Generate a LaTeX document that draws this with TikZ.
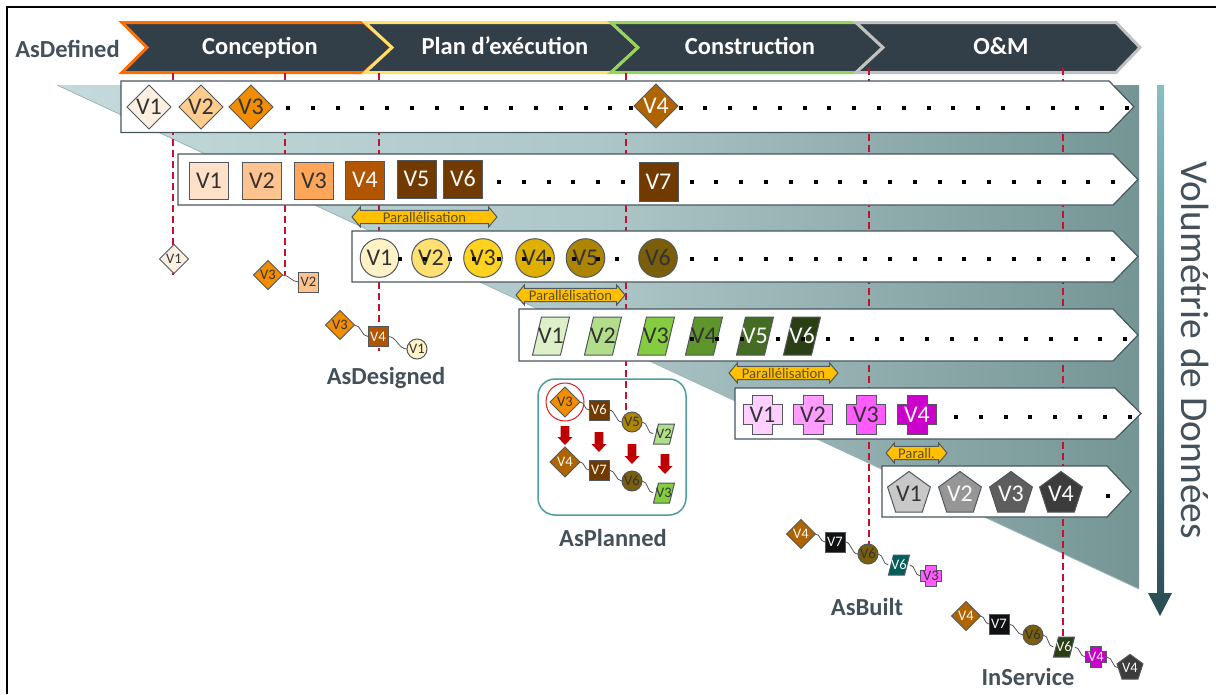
\documentclass[tikz,border=0pt]{standalone}
\usepackage{fontspec}
\setmainfont{Carlito}
\usetikzlibrary{shapes.geometric,shapes.arrows,calc}
\pgfdeclarelayer{back}
\pgfdeclarelayer{lines}
\pgfsetlayers{back,lines,main}
\definecolor{hdark}{HTML}{333F48}
\definecolor{inkc}{HTML}{44505A}
\definecolor{redl}{HTML}{C8102E}
\definecolor{edgec}{HTML}{50585E}
\definecolor{rowc}{HTML}{47565F}
\definecolor{txtd}{HTML}{333333}
\definecolor{txtl}{HTML}{FAFAFA}
\definecolor{gold}{HTML}{FFC000}
\definecolor{tleft}{HTML}{C4DADB}
\definecolor{tmid}{HTML}{ADC6C7}
\definecolor{tright}{HTML}{759595}
\definecolor{dA}{HTML}{FEF0E0}\definecolor{dB}{HTML}{FFCC8E}\definecolor{dC}{HTML}{F28C00}\definecolor{dD}{HTML}{AF6400}
\definecolor{sA}{HTML}{FFE0C8}\definecolor{sB}{HTML}{FFC390}\definecolor{sC}{HTML}{FFA65A}\definecolor{sD}{HTML}{B25500}\definecolor{sE}{HTML}{713A00}\definecolor{sK}{HTML}{111111}
\definecolor{cA}{HTML}{FFF2C6}\definecolor{cB}{HTML}{FFE070}\definecolor{cC}{HTML}{FFD21E}\definecolor{cD}{HTML}{E0B000}\definecolor{cE}{HTML}{AE8500}\definecolor{cF}{HTML}{7A5E0A}
\definecolor{pA}{HTML}{DDF0C8}\definecolor{pB}{HTML}{B2DE8C}\definecolor{pC}{HTML}{84CC40}\definecolor{pD}{HTML}{5E962C}\definecolor{pE}{HTML}{446C22}\definecolor{pF}{HTML}{2A4014}\definecolor{pT}{HTML}{005F5A}
\definecolor{xA}{HTML}{FFCFFF}\definecolor{xB}{HTML}{FF9CFF}\definecolor{xC}{HTML}{FF5CFF}\definecolor{xD}{HTML}{CC00CC}
\definecolor{gA}{HTML}{C8C8C8}\definecolor{gB}{HTML}{969696}\definecolor{gC}{HTML}{5E5E5E}\definecolor{gD}{HTML}{3C3C3C}
\tikzset{
  x=1pt,y=-1pt,
  chev/.style={draw=#1,line width=3pt,fill=hdark,line join=miter,miter limit=3},
  chevt/.style={text=white,font=\fontsize{24.5}{24.5}\selectfont\bfseries,inner sep=0,text height=16pt,text depth=5pt},
  rowbox/.style={draw=rowc,line width=1.2pt,fill=white},
  reddash/.style={draw=redl,line width=2pt,dash pattern=on 7pt off 4pt},
  wire/.style={draw=edgec,line width=.8pt},
  big/.style={font=\fontsize{24}{24}\selectfont,text height=15.4pt,text depth=0pt},
  small/.style={font=\fontsize{14.5}{14.5}\selectfont,text height=9.4pt,text depth=0pt},
  nd/.style={draw=edgec,line width=1pt,inner sep=0,outer sep=0},
  dia/.style={nd,diamond,minimum width=2*#1*1pt,minimum height=2*#1*1pt},
  sqb/.style={nd,rectangle,minimum width=39pt,minimum height=37pt},
  sqs/.style={nd,rectangle,minimum width=20pt,minimum height=20pt},
  circ/.style={nd,circle,minimum size=2*#1*1pt},
  penta/.style={nd,regular polygon,regular polygon sides=5,minimum size=2*#1*1pt},
  par/.style={double arrow,draw=edgec,line width=1pt,fill=gold,inner sep=0,
     minimum width=20pt,double arrow head extend=3pt,double arrow tip angle=100,
     text=txtd!80!gold,font=\fontsize{14.7}{14.7}\selectfont},
  lab/.style={text=inkc,font=\fontsize{24.5}{24.5}\selectfont\bfseries,inner sep=0,text height=16pt,text depth=5pt},
}
% name, x, y, half-height, half-span, skew, fill, text style, text
\newcommand{\paranode}[9]{%
  \path[fill=#7,draw=edgec,line width=1pt] (#2-#5,#3+#4) -- (#2-#5+#6,#3-#4) -- (#2+#5,#3-#4) -- (#2+#5-#6,#3+#4) -- cycle;
  \node[#8,inner sep=0,minimum width=2*#5*1pt,minimum height=2*#4*1pt] (#1) at (#2,#3) {#9};}
% name, x, y, half, half-arm, fill, text style, text
\newcommand{\crossnode}[8]{%
  \path[fill=#6,draw=edgec,line width=1pt] (#2-#5,#3-#4) -- (#2+#5,#3-#4) -- (#2+#5,#3-#5) -- (#2+#4,#3-#5) -- (#2+#4,#3+#5) -- (#2+#5,#3+#5) -- (#2+#5,#3+#4) -- (#2-#5,#3+#4) -- (#2-#5,#3+#5) -- (#2-#4,#3+#5) -- (#2-#4,#3-#5) -- (#2-#5,#3-#5) -- cycle;
  \node[#7,inner sep=0,minimum size=2*#4*1pt] (#1) at (#2,#3) {#8};}
\newcommand{\dotrow}[4]{\foreach \k in {0,...,#3}{\fill[black] ({#1+#4*\k-2},#2-2) rectangle ++(4,4);}}
\newcommand{\rowshape}[5]{\draw[rowbox] (#1,#2) -- (#4,#2) -- (#5,{(#2+#3)/2}) -- (#4,#3) -- (#1,#3) -- cycle;}
\newcommand{\downarr}[3]{\fill[red!75!black] (#1-4.3,#2) -- (#1+4.3,#2) -- (#1+4.3,#3-8) -- (#1+7.5,#3-8) -- (#1,#3) -- (#1-7.5,#3-8) -- (#1-4.3,#3-8) -- cycle;}
\begin{document}
\begin{tikzpicture}
\useasboundingbox (0,0) rectangle (1216,694);
\begin{pgfonlayer}{back}
\fill[white] (0,0) rectangle (1216,694);
\draw[black,line width=1.5pt] (7,694) -- (7,7) -- (1216,7);
\path[left color=tleft,right color=tright,middle color=tmid] (57,85) -- (1139,85) -- (1139,589) -- cycle;
\draw[tright!70!white,line width=.8pt] (57,85) -- (1139,589);
\draw[chev={orange!85!red}] (122,22.5) -- (364,22.5) -- (392,47.5) -- (364,72.5) -- (122,72.5) -- (147,47.5) -- cycle;
\draw[chev={cB}] (365,22.5) -- (611,22.5) -- (638,47.5) -- (611,72.5) -- (365,72.5) -- (392,47.5) -- cycle;
\draw[chev={pC!85!white}] (611,22.5) -- (856,22.5) -- (883,47.5) -- (856,72.5) -- (611,72.5) -- (638,47.5) -- cycle;
\draw[chev={gA!90!gray}] (856,22.5) -- (1116,22.5) -- (1140,47.5) -- (1116,72.5) -- (856,72.5) -- (883,47.5) -- cycle;
\draw[draw=rowc!40!cyan!50!gray,line width=1.5pt,fill=white,rounded corners=17pt] (538,379) rectangle (686,515);
\end{pgfonlayer}
\node[chevt] (tc) at (260,48.5) {Conception};
\node[chevt] (tp) at (505,48.5) {Plan d’exécution};
\node[chevt] (tk) at (750,48.5) {Construction};
\node[chevt] (to) at (1001,48.5) {O\&M};
\node[lab] (ld) at (67.5,52) {AsDefined};
% rows
\rowshape{121}{81}{132.5}{1109}{1134}
\rowshape{178}{154}{205}{1113}{1138}
\rowshape{352}{231}{282}{1113}{1138}
\rowshape{519}{309}{361}{1113}{1138}
\rowshape{735}{388}{439}{1115}{1141}
\rowshape{882}{466}{517}{1107}{1131}
% row dots under nodes
\dotrow{288}{108}{13}{24.8}
\dotrow{631}{108}{20}{24.8}
\dotrow{499}{182}{5}{24.8}
\dotrow{691.5}{182}{17}{24.8}
\dotrow{691.5}{259}{17}{24.8}
\dotrow{956}{417}{7}{24.8}
\dotrow{1108}{496}{0}{24.8}
% row 1
\node[dia=22,big,fill=dA,text=txtd] (aA) at (149,107) {V1};
\node[dia=22,big,fill=dB,text=txtd] (aB) at (201,107) {V2};
\node[dia=22,big,fill=dC,text=txtd] (aC) at (251,107) {V3};
\node[dia=22,big,fill=dD,text=txtl] (aD) at (656,106) {V4};
% row 2
\node[sqb,big,fill=sA,text=txtd] (bA) at (209,180.5) {V1};
\node[sqb,big,fill=sB,text=txtd] (bB) at (262,180.5) {V2};
\node[sqb,big,fill=sC,text=txtd] (bC) at (314,180.5) {V3};
\node[sqb,big,fill=sD,text=txtl,minimum height=38pt] (bD) at (365,180) {V4};
\node[sqb,big,fill=sE,text=txtl,minimum height=38pt] (bE) at (416.5,179) {V5};
\node[sqb,big,fill=sE,text=txtl,minimum height=38pt] (bF) at (463,179) {V6};
\node[sqb,big,fill=sE,text=txtl,minimum height=39pt] (bG) at (658.5,181.5) {V7};
% row 3
\node[circ=19.3,big,fill=cA,text=txtd] (cAn) at (379.5,258) {V1};
\node[circ=19.3,big,fill=cB,text=txtd] (cBn) at (431,258) {V2};
\node[circ=19.3,big,fill=cC,text=txtd] (cCn) at (483,258) {V3};
\node[circ=19.3,big,fill=cD,text=txtd] (cDn) at (535,258) {V4};
\node[circ=19.3,big,fill=cE,text=txtd] (cEn) at (585.5,258) {V5};
\node[circ=19.3,big,fill=cF,text=txtd] (cFn) at (658,258) {V6};
\dotrow{400}{259}{8}{24.8}
\dotrow{617}{259}{0}{24.8}
% row 4
\paranode{dA}{551}{336}{19}{18.5}{9}{pA}{big,text=txtd}{V1}
\paranode{dB}{603}{336}{19}{18.5}{9}{pB}{big,text=txtd}{V2}
\paranode{dC}{656}{336}{19}{18.5}{9}{pC}{big,text=txtd}{V3}
\paranode{dD}{704}{336}{19}{18.5}{9}{pD}{big,text=txtd}{V4}
\paranode{dE}{755}{336}{19}{18.5}{9}{pE}{big,text=txtl}{V5}
\paranode{dF}{802}{336}{19}{18.5}{9}{pF}{big,text=txtl}{V6}
\dotrow{692}{339}{2}{24.8}
\dotrow{778}{339}{14}{24.8}
% row 5
\crossnode{eA}{762.5}{414.5}{19.5}{10}{xA}{big,text=txtd}{V1}
\crossnode{eB}{813}{414.5}{19.5}{10}{xB}{big,text=txtd}{V2}
\crossnode{eC}{866}{414.5}{19.5}{10}{xC}{big,text=txtd}{V3}
\crossnode{eD}{917}{414.5}{19.5}{10}{xD}{big,text=txtl}{V4}
% row 6
\node[penta=20.5,big,fill=gA,text=txtd] (fA) at (909,494) {V1};
\node[penta=20.5,big,fill=gB,text=txtl] (fB) at (960,494) {V2};
\node[penta=20.5,big,fill=gC,text=txtl] (fC) at (1011,494) {V3};
\node[penta=20.5,big,fill=gD,text=txtl] (fD) at (1061,494) {V4};
% parallelisation
\node[par,minimum height=145pt] (pa1) at (424.5,217) {Parallélisation};
\node[par,minimum height=109pt] (pa2) at (570.5,295) {Parallélisation};
\node[par,minimum height=109pt] (pa3) at (783.5,373) {Parallélisation};
\node[par,minimum height=61pt] (pa4) at (916.5,453) {Parall.};
% small chains
\node[dia=14.5,small,fill=dA,text=txtd] (sA1) at (174,259) {V1};
\node[dia=14.5,small,fill=dC,text=txtd] (sB1) at (268,275) {V3};
\node[sqs,small,fill=sB,text=txtd] (sB2) at (308.5,282) {V2};
\draw[wire] (sB1.east) to[out=0,in=180] (sB2.west);
\node[dia=14.5,small,fill=dC,text=txtd] (sC1) at (340,325) {V3};
\node[sqs,small,fill=sD,text=txtl] (sC2) at (378,336.5) {V4};
\node[circ=10,small,fill=cA,text=txtd] (sC3) at (417,349) {V1};
\draw[wire] (sC1.east) to[out=0,in=180] (sC2.west);
\draw[wire] (sC2.east) to[out=0,in=180] (sC3.west);
\node[lab] (lDes) at (386,378.5) {AsDesigned};
% AsPlanned
\draw[draw=red!75!gray,line width=1pt] (565,402) circle (19);
\node[dia=15,small,fill=dC,text=txtd] (pA1) at (565,402) {V3};
\node[sqs,small,fill=sE,text=txtl] (pA2) at (599,410) {V6};
\node[circ=10,small,fill=cE,text=txtd] (pA3) at (632,422) {V5};
\paranode{pA4}{664}{434}{10}{10.5}{5}{pB}{small,text=txtd}{V2}
\draw[wire] (pA1.east) to[out=0,in=180] (pA2.west);
\draw[wire] (pA2.east) to[out=0,in=180] (pA3.west);
\draw[wire] (pA3.east) to[out=0,in=180] (pA4.west);
\node[dia=15,small,fill=dD,text=txtl] (pB1) at (565,462) {V4};
\node[sqs,small,fill=sE,text=txtl] (pB2) at (599,470) {V7};
\node[circ=10,small,fill=cF,text=txtd] (pB3) at (632,481) {V6};
\paranode{pB4}{664}{493}{10}{10.5}{5}{pC}{small,text=txtd}{V3}
\draw[wire] (pB1.east) to[out=0,in=180] (pB2.west);
\draw[wire] (pB2.east) to[out=0,in=180] (pB3.west);
\draw[wire] (pB3.east) to[out=0,in=180] (pB4.west);
\downarr{565}{426}{445}
\downarr{599}{432}{452}
\downarr{632}{444}{464}
\downarr{665}{454}{474}
\node[lab] (lPl) at (613,541) {AsPlanned};
% AsBuilt
\node[dia=14.5,small,fill=dD,text=txtl] (uA) at (801,534) {V4};
\node[sqs,small,fill=sK,text=txtl] (uB) at (835,542) {V7};
\node[circ=10,small,fill=cF,text=txtd] (uC) at (868,554) {V6};
\paranode{uD}{899}{565}{10}{10.5}{5}{pT}{small,text=txtl}{V6}
\crossnode{uE}{931}{576}{10.5}{5.5}{xC}{small,text=txtd}{V3}
\draw[wire] (uA.east) to[out=0,in=180] (uB.west);
\draw[wire] (uB.east) to[out=0,in=180] (uC.west);
\draw[wire] (uC.east) to[out=0,in=180] (uD.west);
\draw[wire] (uD.east) to[out=0,in=180] (uE.west);
\node[lab] (lBu) at (867,609.5) {AsBuilt};
% InService
\node[dia=14.5,small,fill=dD,text=txtl] (vA) at (966,616) {V4};
\node[sqs,small,fill=sK,text=txtl] (vB) at (999,624) {V7};
\node[circ=10,small,fill=cF,text=txtd] (vC) at (1033,635) {V6};
\paranode{vD}{1064}{647}{10}{10.5}{5}{pF}{small,text=txtl}{V6}
\crossnode{vE}{1096}{657}{10.5}{5.5}{xD}{small,text=txtl}{V4}
\node[penta=10.5,small,fill=gD,text=txtl] (vF) at (1130,668) {V4};
\draw[wire] (vA.east) to[out=0,in=180] (vB.west);
\draw[wire] (vB.east) to[out=0,in=180] (vC.west);
\draw[wire] (vC.east) to[out=0,in=180] (vD.west);
\draw[wire] (vD.east) to[out=0,in=180] (vE.west);
\draw[wire] (vE.east) to[out=0,in=180] (vF.west);
\node[lab] (lIn) at (1028,679.5) {InService};
% volume arrow
\shade[top color=tleft!70!teal,bottom color=hdark!80!teal] (1157,85) -- (1164,85) -- (1164,593) -- (1172,593) -- (1160,616) -- (1148,593) -- (1157,593) -- cycle;
\node[rotate=-90,text=inkc,font=\fontsize{39.5}{39.5}\selectfont,inner sep=0] (vol) at (1195,350) {Volumétrie de Données};
% red dashed lines
\begin{pgfonlayer}{lines}
\coordinate (t1) at (173,73);
\coordinate (t2) at (285,73);
\coordinate (t3) at (379,73);
\coordinate (t4) at (626,73);
\coordinate (t5) at (869,68);
\coordinate (t6) at (1063,68);
\coordinate (e1) at (173,275);
\coordinate (e2) at (285,275);
\coordinate (e3) at (379,351);
\draw[reddash] (t1) -- (e1);
\draw[reddash] (t2) -- (e2);
\draw[reddash] (t3) -- (e3);
\draw[reddash] (t4) -- (t4 |- pA3.center);
\draw[reddash] (t5) -- (t5 |- uC.center);
\draw[reddash] (t6) -- (t6 |- vD.center);
\end{pgfonlayer}
\end{tikzpicture}
\end{document}
